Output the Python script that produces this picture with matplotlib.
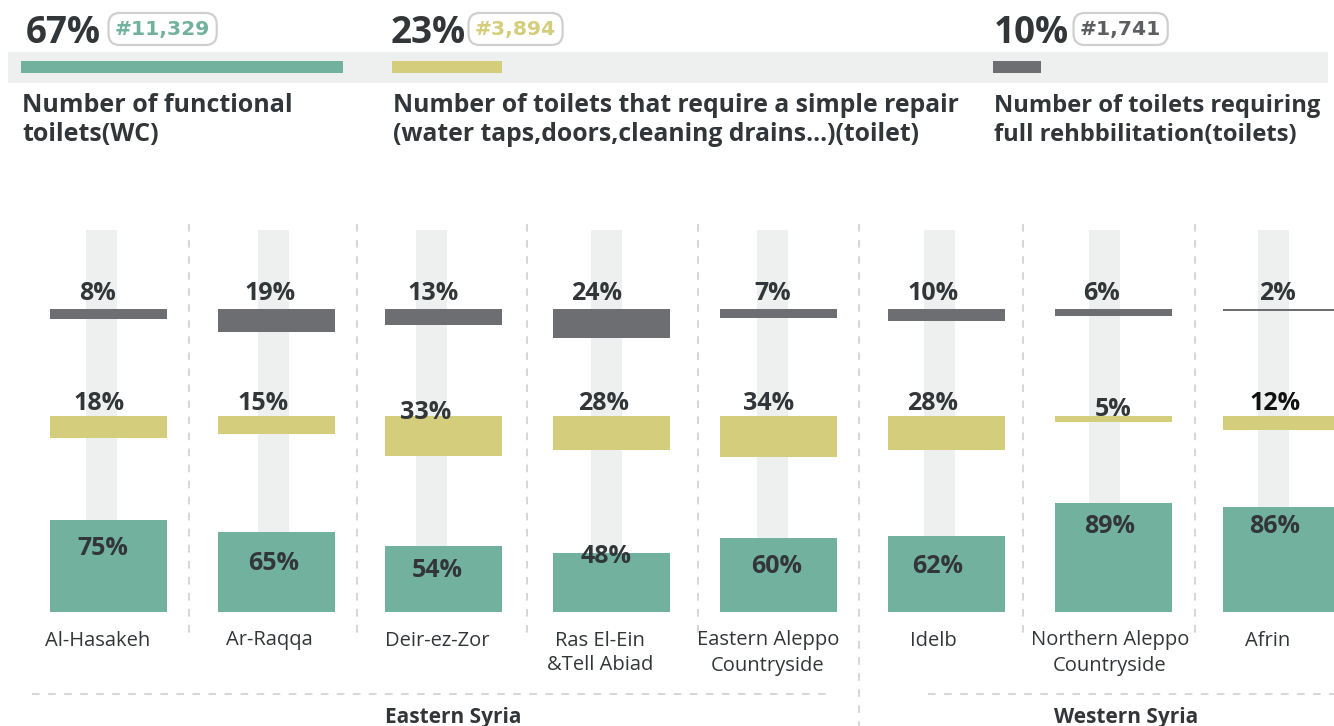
import matplotlib
matplotlib.use("Agg")
import matplotlib.pyplot as plt

# ---------------- data ----------------
categories = ['Al-Hasakeh', 'Ar-Raqqa', 'Deir-ez-Zor', 'Ras El-Ein\n&Tell Abiad',
              'Eastern Aleppo\nCountryside', 'Idelb', 'Northern Aleppo\nCountryside', 'Afrin']
full_rehab = [8, 19, 13, 24, 7, 10, 6, 2]
simple_repair = [18, 15, 33, 28, 34, 28, 5, 12]
functional = [75, 65, 54, 48, 60, 62, 89, 86]

header_pct = [67, 23, 10]
header_count = ['#11,329', '#3,894', '#1,741']
header_titles = ['Number of functional\ntoilets(WC)',
                 'Number of toilets that require a simple repair\n(water taps,doors,cleaning drains...)(toilet)',
                 'Number of toilets requiring\nfull rehbbilitation(toilets)']
regions = ['Eastern Syria', 'Western Syria']

# ---------------- style / layout ----------------
GREEN = '#72b19d'
YELLOW = '#d4cd7b'
GREY = '#6d6e72'
STRIP = '#eef0ef'
DARK = '#333639'
DASH = '#cccccc'

plt.rcParams['font.family'] = ['Open Sans', 'DejaVu Sans']

fig = plt.figure(figsize=(13.34, 7.26), dpi=100)
ax = fig.add_axes([0, 0, 1, 1])
ax.set_xlim(0, 1334)
ax.set_ylim(726, 0)
ax.axis('off')

# header
ax.add_patch(plt.Rectangle((8, 52), 1320, 31, color=STRIP, lw=0, zorder=0))
h_x = [21, 392, 993]
h_colors = [GREEN, YELLOW, GREY]
h_txtcol = [GREEN, YELLOW, '#5d5e61']
title_fs = [18, 17.8, 17.1]
HSCALE = 4.8
ax.barh([67] * 3, [p * HSCALE for p in header_pct], left=h_x, height=12,
        color=h_colors, zorder=2)
pct_x = [26, 391, 994]
box_x = [115, 475, 1080]
for i in range(3):
    ax.text(pct_x[i], 43, f'{header_pct[i]}%', fontsize=26.5, fontweight='bold',
            color=DARK, ha='left', va='baseline')
    ax.text(box_x[i], 34.5, header_count[i], fontsize=14.6, fontweight='bold',
            family='DejaVu Sans', color=h_txtcol[i], ha='left', va='baseline',
            bbox=dict(boxstyle='round,pad=0.32,rounding_size=0.55', fc='white',
                      ec='#cfcfcf', lw=1.6))
    for j, line in enumerate(header_titles[i].split('\n')):
        ax.text(h_x[i] + 1, 111.5 + 29.5 * j, line, fontsize=title_fs[i], fontweight='bold',
                color=DARK, ha='left', va='baseline')

# small multiples
n = len(categories)
bar_c = [108.5 + 167.5 * i for i in range(n)]
strip_c = [101.5, 273.5, 431.5, 606, 772.5, 939, 1104.5, 1273]
BW = 117
K = 1.226
GREY_TOP = 309
YEL_TOP = 415.7
GREEN_BASE = 612

ax.bar(strip_c, [GREEN_BASE - 230] * n, bottom=230, width=31, color=STRIP, lw=0, zorder=1)
ax.bar(bar_c, [v * K for v in full_rehab], bottom=GREY_TOP, width=BW, color=GREY,
       lw=0, zorder=2)
ax.bar(bar_c, [v * K for v in simple_repair], bottom=YEL_TOP, width=BW, color=YELLOW,
       lw=0, zorder=2)
ax.bar(bar_c, [-v * K for v in functional], bottom=GREEN_BASE, width=BW, color=GREEN,
       lw=0, zorder=2)

g_lab_x = [97, 270, 433, 597, 773, 933, 1102, 1277]
y_lab_x = [99, 263, 426, 604, 769, 933, 1113, 1275]
y_lab_base = [409.5, 409.5, 419.3, 409.5, 409.5, 409.5, 416, 410]
f_lab_x = [103, 274, 437, 606, 777, 938, 1110, 1275]
f_lab_base = [555, 570, 576.7, 563.3, 573.3, 572.7, 532.7, 532.7]
cat_x = [98, 269, 437, 600, 768, 933, 1110, 1268]

for i in range(n):
    ax.text(g_lab_x[i], 300, f'{full_rehab[i]}%', fontsize=18, fontweight='bold',
            color=DARK, ha='center', va='baseline', zorder=3)
    ax.text(y_lab_x[i], y_lab_base[i], f'{simple_repair[i]}%', fontsize=18,
            fontweight='bold', color='#111111' if i == 7 else DARK,
            ha='center', va='baseline', zorder=3)
    ax.text(f_lab_x[i], f_lab_base[i], f'{functional[i]}%', fontsize=18,
            fontweight='bold', color=DARK, ha='center', va='baseline', zorder=3)
    for j, line in enumerate(categories[i].split('\n')):
        ax.text(cat_x[i], 645.5 + 25 * j, line, fontsize=14.5, color=DARK,
                ha='center', va='baseline')

# separators
sep_x = [189, 357, 527, 698, 1023, 1195]
ax.vlines(sep_x, 224, 633, colors=DASH, lw=1.1, linestyles=(0, (5, 5.5)), zorder=0)
ax.vlines([859], 224, 726, colors=DASH, lw=1.1, linestyles=(0, (5, 5.5)), zorder=0)
ax.hlines([694, 694], [32, 928], [832, 1334], colors=DASH, lw=1.1,
          linestyles=(0, (5, 5.5)), zorder=0)

ax.text(453, 722.5, regions[0], fontsize=15, fontweight='bold', color=DARK,
        ha='center', va='baseline')
ax.text(1126, 722.5, regions[1], fontsize=15, fontweight='bold', color=DARK,
        ha='center', va='baseline')

fig.savefig('out.png', dpi=100)
